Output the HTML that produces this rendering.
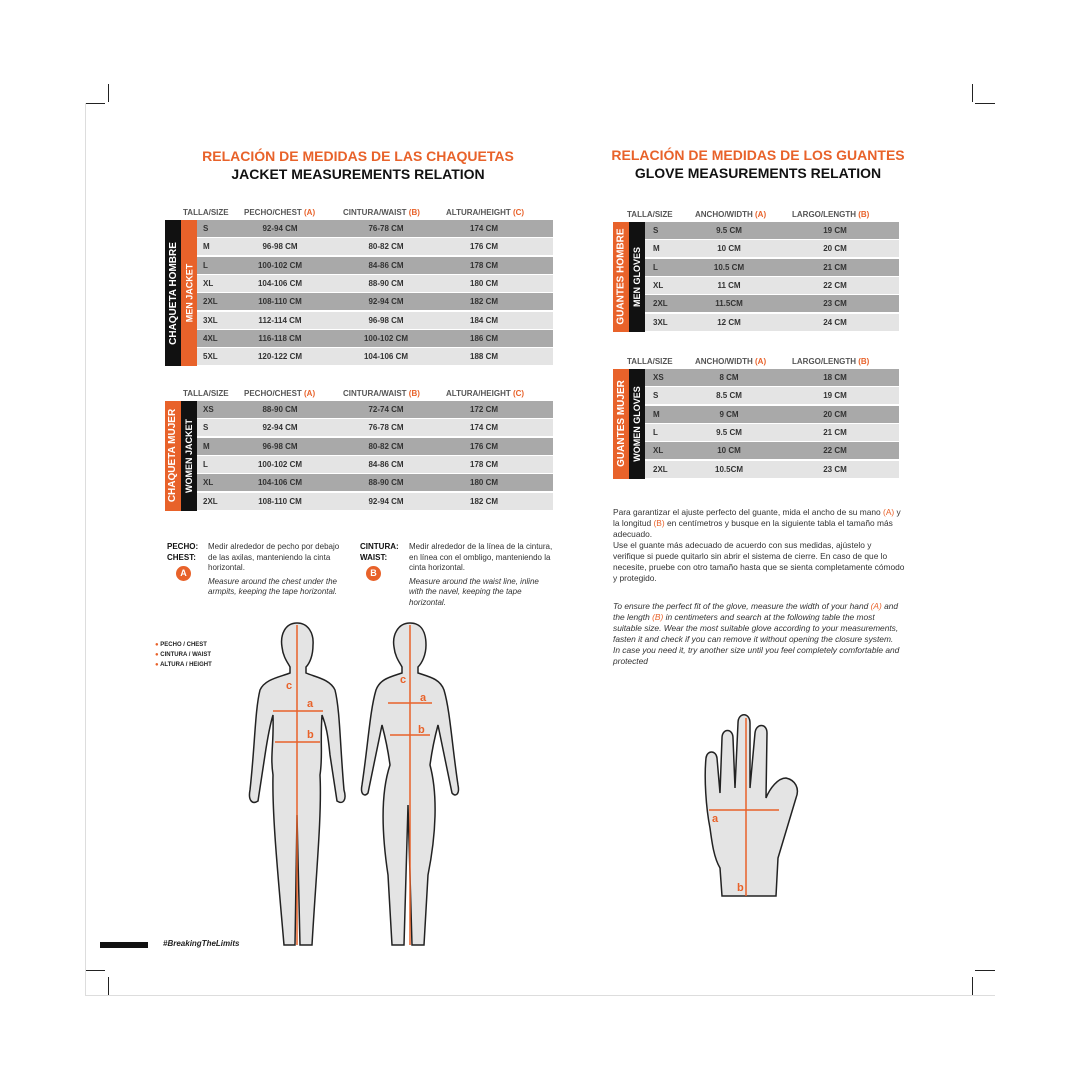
<!DOCTYPE html><html><head><meta charset="utf-8"><style>
body{margin:0;width:1080px;height:1080px;background:#fff;position:relative;overflow:hidden;font-family:"Liberation Sans",sans-serif;color:#222}
.a{position:absolute}
.t1{font-weight:bold;color:#e8622a;font-size:14px;text-align:center}
.t2{font-weight:bold;color:#111;font-size:14px;text-align:center}
.hd{font-size:8px;color:#555;font-weight:bold;white-space:nowrap}
.hd b{color:#e8622a}
.row{position:absolute;height:17px;font-size:8px;font-weight:bold;color:#333;line-height:17px;white-space:nowrap}
.row span{position:absolute;transform:translateX(-50%)}
.row span.f{transform:none}
.d{background:#a9a9a9}.l{background:#e4e4e4}
.vb{position:absolute;display:flex;align-items:center;justify-content:center}
.vb div{transform:rotate(-90deg);white-space:nowrap;font-weight:bold;font-size:10px}
.cm{position:absolute;background:#222}
.p{font-size:8px;line-height:10.5px;color:#333}
</style></head><body>
<div class="cm" style="left:85px;top:103px;width:20px;height:1px"></div>
<div class="cm" style="left:108px;top:84px;width:1px;height:18px"></div>
<div class="cm" style="left:975px;top:103px;width:20px;height:1px"></div>
<div class="cm" style="left:972px;top:84px;width:1px;height:18px"></div>
<div class="cm" style="left:85px;top:970px;width:20px;height:1px"></div>
<div class="cm" style="left:108px;top:977px;width:1px;height:18px"></div>
<div class="cm" style="left:975px;top:970px;width:20px;height:1px"></div>
<div class="cm" style="left:972px;top:977px;width:1px;height:18px"></div>
<div class="a" style="left:85px;top:103px;width:1px;height:892px;background:#ddd"></div>
<div class="a" style="left:85px;top:995px;width:910px;height:1px;background:#ddd"></div>

<div class="a t1" style="left:158px;top:148px;width:400px">RELACIÓN DE MEDIDAS DE LAS CHAQUETAS</div>
<div class="a t2" style="left:158px;top:166px;width:400px">JACKET MEASUREMENTS RELATION</div>
<div class="a t1" style="left:558px;top:147px;width:400px">RELACIÓN DE MEDIDAS DE LOS GUANTES</div>
<div class="a t2" style="left:558px;top:165px;width:400px">GLOVE MEASUREMENTS RELATION</div>

<div id="tables"></div>
<script>
function tbl(x,y,rows,cols,w,c1,c2,l1,l2,top,hdrs,hx){
 let h='';
 hdrs.forEach((t,i)=>{h+=`<div class="a hd" style="left:${hx[i]}px;top:${y-12}px">${t}</div>`});
 let rh=18.3;
 h+=`<div class="vb" style="left:${x-32}px;top:${y}px;width:16px;height:${rows.length*rh}px;background:${c1};color:#fff"><div>${l1}</div></div>`;
 h+=`<div class="vb" style="left:${x-16}px;top:${y}px;width:16px;height:${rows.length*rh}px;background:${c2};color:#fff"><div style="font-size:9px">${l2}</div></div>`;
 rows.forEach((r,i)=>{h+=`<div class="row ${i%2?'l':'d'}" style="left:${x}px;top:${y+i*rh}px;width:${w}px">`;
  r.forEach((c,j)=>{h+=`<span class="${j==0?'f':''}" style="left:${cols[j]}px">${c}</span>`});h+='</div>'});
 return h;}
const jh=['TALLA/SIZE','PECHO/CHEST <b>(A)</b>','CINTURA/WAIST <b>(B)</b>','ALTURA/HEIGHT <b>(C)</b>'];
let H='';
H+=tbl(197,220,[['S','92-94 CM','76-78 CM','174 CM'],['M','96-98 CM','80-82 CM','176 CM'],['L','100-102 CM','84-86 CM','178 CM'],['XL','104-106 CM','88-90 CM','180 CM'],['2XL','108-110 CM','92-94 CM','182 CM'],['3XL','112-114 CM','96-98 CM','184 CM'],['4XL','116-118 CM','100-102 CM','186 CM'],['5XL','120-122 CM','104-106 CM','188 CM']],[6,83,189,287],356,'#111','#e8622a','CHAQUETA HOMBRE','MEN JACKET',0,jh,[183,244,343,446]);
H+=tbl(197,401,[['XS','88-90 CM','72-74 CM','172 CM'],['S','92-94 CM','76-78 CM','174 CM'],['M','96-98 CM','80-82 CM','176 CM'],['L','100-102 CM','84-86 CM','178 CM'],['XL','104-106 CM','88-90 CM','180 CM'],['2XL','108-110 CM','92-94 CM','182 CM']],[6,83,189,287],356,'#e8622a','#111','CHAQUETA MUJER','WOMEN JACKET',0,jh,[183,244,343,446]);
const gh=['TALLA/SIZE','ANCHO/WIDTH <b>(A)</b>','LARGO/LENGTH <b>(B)</b>'];
H+=tbl(645,222,[['S','9.5 CM','19 CM'],['M','10 CM','20 CM'],['L','10.5 CM','21 CM'],['XL','11 CM','22 CM'],['2XL','11.5CM','23 CM'],['3XL','12 CM','24 CM']],[8,84,190],254,'#e8622a','#111','GUANTES HOMBRE','MEN GLOVES',0,gh,[627,695,792]);
H+=tbl(645,369,[['XS','8 CM','18 CM'],['S','8.5 CM','19 CM'],['M','9 CM','20 CM'],['L','9.5 CM','21 CM'],['XL','10 CM','22 CM'],['2XL','10.5CM','23 CM']],[8,84,190],254,'#e8622a','#111','GUANTES MUJER','WOMEN GLOVES',0,gh,[627,695,792]);
document.getElementById('tables').innerHTML=H;
</script>

<div class="a p" style="left:167px;top:542px;font-weight:bold;color:#111">PECHO:<br>CHEST:</div>
<div class="a" style="left:176px;top:566px;width:15px;height:15px;border-radius:50%;background:#e8622a;color:#fff;font-size:9px;font-weight:bold;text-align:center;line-height:15px">A</div>
<div class="a p" style="left:208px;top:542px;width:140px">Medir alrededor de pecho por debajo de las axilas, manteniendo la cinta horizontal.<br><i style="display:block;margin-top:3px">Measure around the chest under the armpits, keeping the tape horizontal.</i></div>
<div class="a p" style="left:360px;top:542px;font-weight:bold;color:#111">CINTURA:<br>WAIST:</div>
<div class="a" style="left:366px;top:566px;width:15px;height:15px;border-radius:50%;background:#e8622a;color:#fff;font-size:9px;font-weight:bold;text-align:center;line-height:15px">B</div>
<div class="a p" style="left:409px;top:542px;width:145px">Medir alrededor de la línea de la cintura, en línea con el ombligo, manteniendo la cinta horizontal.<br><i style="display:block;margin-top:3px">Measure around the waist line, inline with the navel, keeping the tape horizontal.</i></div>

<div class="a" style="left:155px;top:640px;font-size:6px;font-weight:bold;line-height:10px;color:#222">
<span style="color:#e8622a">●</span> PECHO / CHEST<br><span style="color:#e8622a">●</span> CINTURA / WAIST<br><span style="color:#e8622a">●</span> ALTURA / HEIGHT</div>

<svg class="a" style="left:240px;top:615px" width="240" height="350" viewBox="0 0 240 350">
<g fill="#e4e4e4" stroke="#222" stroke-width="1.5">
<path d="M57 8 C45 8 40 20 42 32 C43 42 48 48 50 52 L50 58 C40 62 25 64 20 75 C15 95 15 130 10 175 C8 185 12 190 18 186 L25 140 C28 120 30 110 33 100 C34 130 30 140 33 160 C32 200 38 260 44 330 L55 330 L57 200 L60 330 L72 330 C76 260 82 200 80 160 C83 140 80 130 82 100 C86 110 88 120 90 140 L97 186 C103 190 107 185 104 175 C100 130 100 95 95 75 C90 64 75 62 66 58 L66 52 C70 48 73 40 73 30 C74 18 68 8 57 8Z"/>
<path d="M170 8 C158 8 152 20 154 32 C155 42 160 48 162 52 L162 58 C150 62 140 64 136 75 C130 95 128 130 122 170 C120 180 125 182 128 178 L142 110 C146 125 148 135 150 150 C140 180 142 220 148 260 L152 330 L164 330 L168 190 L172 330 L184 330 L188 260 C196 220 198 180 190 150 C192 135 194 125 198 110 L212 178 C215 182 220 180 218 170 C212 130 210 95 204 75 C200 64 190 62 178 58 L178 52 C182 48 186 40 186 30 C186 18 182 8 170 8Z"/>
</g>
<g stroke="#e8622a" stroke-width="1.5" fill="none">
<line x1="57" y1="10" x2="57" y2="330"/><line x1="33" y1="96" x2="83" y2="96"/><line x1="35" y1="127" x2="80" y2="127"/>
<line x1="170" y1="10" x2="170" y2="330"/><line x1="148" y1="88" x2="192" y2="88"/><line x1="150" y1="120" x2="190" y2="120"/>
</g>
<g fill="#e8622a" font-size="11" font-weight="bold" font-family="Liberation Sans,sans-serif">
<text x="46" y="74">c</text><text x="67" y="92">a</text><text x="67" y="123">b</text>
<text x="160" y="68">c</text><text x="180" y="86">a</text><text x="178" y="118">b</text></g>
</svg>

<div class="a p" style="left:613px;top:507px;width:292px;font-size:8.4px;line-height:11px">Para garantizar el ajuste perfecto del guante, mida el ancho de su mano <span style="color:#e8622a">(A)</span> y la longitud <span style="color:#e8622a">(B)</span> en centímetros y busque en la siguiente tabla el tamaño más adecuado.<br>Use el guante más adecuado de acuerdo con sus medidas, ajústelo y verifique si puede quitarlo sin abrir el sistema de cierre. En caso de que lo necesite, pruebe con otro tamaño hasta que se sienta completamente cómodo y protegido.</div>
<div class="a p" style="left:613px;top:601px;width:292px;font-style:italic;font-size:8.4px;line-height:11px">To ensure the perfect fit of the glove, measure the width of your hand <span style="color:#e8622a">(A)</span> and the length <span style="color:#e8622a">(B)</span> in centimeters and search at the following table the most suitable size. Wear the most suitable glove according to your measurements, fasten it and check if you can remove it without opening the closure system.<br>In case you need it, try another size until you feel completely comfortable and protected</div>

<svg class="a" style="left:700px;top:708px" width="110" height="195" viewBox="0 0 110 195">
<path fill="#e4e4e4" stroke="#222" stroke-width="1.5" d="M10 120 C6 100 4 70 6 50 C7 42 16 42 17 50 L20 85 L22 30 C22 20 33 20 33 30 L35 80 L38 15 C38 4 50 4 50 15 L50 80 L55 25 C56 15 67 15 67 25 L66 90 C70 80 78 70 86 70 C95 72 100 80 96 90 C90 110 84 130 78 150 L76 188 L22 188 L20 160 C14 150 12 135 10 120Z"/>
<g stroke="#e8622a" stroke-width="1.5"><line x1="9" y1="102" x2="79" y2="102"/><line x1="46" y1="10" x2="46" y2="188"/></g>
<g fill="#e8622a" font-size="11" font-weight="bold" font-family="Liberation Sans,sans-serif"><text x="12" y="114">a</text><text x="37" y="183">b</text></g>
</svg>

<div class="a" style="left:100px;top:942px;width:48px;height:6px;background:#111"></div>
<div class="a" style="left:163px;top:939px;font-size:8px;font-weight:bold;font-style:italic;color:#222">#BreakingTheLimits</div>
</body></html>
